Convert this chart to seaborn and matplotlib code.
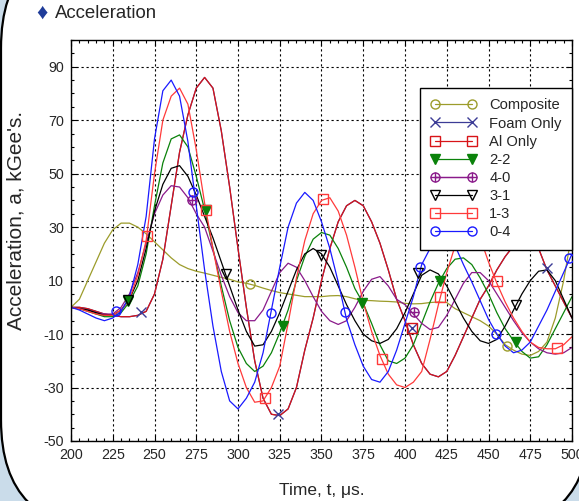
import matplotlib
matplotlib.use("Agg")
import matplotlib.pyplot as plt
import matplotlib.transforms as mtransforms
import pandas as pd
import seaborn as sns
from matplotlib.lines import Line2D
from matplotlib.legend_handler import HandlerTuple
from matplotlib.patches import FancyBboxPatch
from matplotlib.ticker import MultipleLocator

# time axis (microseconds), one reading every 5 us
times = list(range(200, 505, 5))

# readings of the curves off the picture (kGee's)
composite = [0, 3, 10, 17, 24, 29, 31.5, 31.5, 30, 27.5,
             24.5, 21.5, 18.5, 16, 14.5, 13.5, 12.8, 12, 11.2, 10.5,
             9.5, 9, 8.2, 7.2, 6.3, 5.5, 5, 4.5, 4, 4,
             4, 4.3, 4.4, 4, 3.2, 2.6, 2.5, 2.3, 2.2, 2,
             1.5, 1.3, 1.4, 1.8, 2, 1.8, -0.5, -2, -3.5, -5,
             -7, -10, -14, -16, -17.5, -18, -16.5, -13, -4, 10,
             28]
al_only = [0, 0, -0.5, -1.5, -2.5, -3, -3.5, -3.5, -3, -1.5,
           5, 18, 38, 58, 72, 82, 86, 82, 66, 45,
           22, 0, -20, -34, -40, -40.5, -38, -30, -16, -4,
           10, 22, 32, 38, 40, 38, 32, 24, 14, 3,
           -5, -14, -21, -25, -26, -24, -18, -11, -4, 3,
           8, 14, 19, 23, 26, 27, 22, 14, 8, 2,
           -4]
foam_only = al_only
s22 = [0, -0.5, -1.5, -2.5, -3.5, -3.5, -2, 2, 8, 20,
       38, 54, 63, 64.5, 60, 49, 36.5, 22, 8, -5,
       -15, -21, -24, -22, -17, -9.5, -1, 10, 19, 25.5,
       28, 27, 22, 15, 7, 1.5, -6, -14, -20, -21,
       -19, -14, -6, 2, 9, 14.5, 18, 18.5, 16, 11,
       5, -2, -8, -12.5, -16.5, -19, -18.5, -14, -8, -2,
       4]
s40 = [0, -0.5, -1, -2, -2.5, -2.5, 0, 5, 13, 24,
       35, 42, 45.5, 45, 41, 35, 30, 21, 12, 4,
       -2, -5, -5, -1, 6, 13, 16.5, 15, 10, 4,
       -1.5, -5, -6.4, -5, 0, 6, 10.5, 11.5, 8, 3,
       1, -2.5, -6, -8.3, -7.5, -3, 3, 9, 13, 13,
       10, 5, 0, -5, -9.5, -13, -15.5, -17, -17.5, -17,
       -15]
s31 = [0, -0.5, -1, -2, -3, -3, -1, 3, 10, 22,
       36, 46, 52, 53, 49, 42, 34, 26, 17, 8,
       -1, -9, -14.5, -14, -9, -2, 6, 14, 20, 22,
       20, 15, 8, 1, -5, -10, -12.5, -13.5, -12, -8,
       -2, 5, 12, 14, 12.5, 8, 2, -4, -9, -12.5,
       -13.5, -12, -7, -1, 5, 10, 13.5, 14, 10, 3,
       -4]
s13 = [0, -0.5, -1.5, -2.5, -3, -3, -1, 3, 12, 25,
       50, 70, 79, 82, 76, 59, 39, 22, 6, -9,
       -21, -30, -35.5, -35, -30, -22, -6, 11, 25, 35,
       40, 41, 36, 27, 15, 2, -9, -18, -25, -29,
       -30, -28, -24, -12, 1, 13, 23, 29, 30, 26,
       17, 9, 2, -4, -9, -13, -15, -15.5, -15.5, -14,
       -11]
s04 = [0, -1, -2.5, -4, -5, -4, -1.5, 4, 16, 34,
       63, 81, 85, 79, 62, 38, 14, -7, -24, -35,
       -38, -34, -28, -17, -1, 15, 30, 39, 43, 40,
       32, 22, 9.5, -4.5, -14, -22, -27, -28, -24, -16,
       -6, 4, 16, 22, 26, 27, 23, 16, 9.5, 2.5,
       -4.5, -10, -14.5, -17, -16, -13, -7, -1, 6, 13,
       20]

# marker positions
composite_mk_t = [307, 461]
composite_mk_a = [8.9, -14.5]
foam_mk_t = [242, 324, 404, 485]
foam_mk_a = [-1.8, -40, -7.7, 14.7]
al_mk_t = [404]
al_mk_a = [-7.7]
s22_mk_t = [234.3, 280.6, 327, 374.3, 421, 466.5]
s22_mk_a = [2.3, 36.5, -7, 1.5, 9.7, -13]
s40_mk_t = [272.3, 405.6]
s40_mk_a = [40, -1.8]
s31_mk_t = [234.3, 292.6, 350, 408, 466.5]
s31_mk_a = [2.9, 12.6, 19.7, 13, 0.7]
s13_mk_t = [245.5, 280.6, 316, 351, 386, 421, 455, 491]
s13_mk_a = [26.8, 36.5, -34, 40.5, -19.2, 3.9, 9.7, -15.3]
s04_mk_t = [227, 273, 319.6, 364, 409, 454.5, 498]
s04_mk_a = [-1.5, 43.3, -2.3, -1.7, 15, -10, 18.5]

series = [
    # name, values, colour, marker, filled, marker t, marker a
    ("Composite", composite, "#9c9c2b", "o", False, composite_mk_t, composite_mk_a),
    ("Foam Only", foam_only, "#3c3c96", "x", False, foam_mk_t, foam_mk_a),
    ("Al Only", al_only, "#d81418", "s", False, al_mk_t, al_mk_a),
    ("2-2", s22, "#0a820a", "v", True, s22_mk_t, s22_mk_a),
    ("4-0", s40, "#8a1a8a", "o+", False, s40_mk_t, s40_mk_a),
    ("3-1", s31, "#000000", "v", False, s31_mk_t, s31_mk_a),
    ("1-3", s13, "#ff3a3a", "s", False, s13_mk_t, s13_mk_a),
    ("0-4", s04, "#1a1aff", "o", False, s04_mk_t, s04_mk_a),
]

sns.set_style("ticks")
plt.rcParams['font.family'] = ['Liberation Sans', 'DejaVu Sans']
plt.rcParams['axes.unicode_minus'] = False

fig = plt.figure(figsize=(5.79, 5.01), dpi=100)
fig.patch.set_facecolor('#cadcea')

# rounded white panel behind everything (pixel units)
px = mtransforms.Affine2D().scale(1 / 579, 1 / 501) + fig.transFigure
panel = FancyBboxPatch((1, -29), 589, 592,
                       boxstyle="round,pad=0,rounding_size=110",
                       transform=px, facecolor='white', edgecolor='black',
                       lw=1.6, zorder=-5)
fig.add_artist(panel)

ax = fig.add_axes([71 / 579, 60 / 501, 501 / 579, 401 / 501])
ax.set_facecolor('white')

ms = 6.5
lw = 0.9
handles = []
for name, vals, col, mk, filled, mt, ma in series:
    df = pd.DataFrame({"t": times, "a": vals})
    sns.lineplot(data=df, x="t", y="a", color=col, lw=lw, ax=ax,
                 estimator=None, sort=False)
    if mk == "o+":
        ax.plot(mt, ma, ls='none', marker='o', ms=ms, mfc='none', mec=col, mew=1.0, zorder=4)
        ax.plot(mt, ma, ls='none', marker='+', ms=ms, mec=col, mew=1.0, zorder=4)
        h = (Line2D([], [], color=col, lw=lw, marker='o', ms=ms, mfc='none', mec=col),
             Line2D([], [], color=col, lw=lw, marker='+', ms=ms, mec=col))
    else:
        mfc = col if filled else 'none'
        ax.plot(mt, ma, ls='none', marker=mk, ms=ms, mfc=mfc, mec=col, mew=1.0, zorder=4)
        h = Line2D([], [], color=col, lw=lw, marker=mk, ms=ms, mfc=mfc, mec=col)
    handles.append(h)

ax.set_xlim(200, 500)
ax.set_ylim(-50, 100)
ax.xaxis.set_major_locator(MultipleLocator(25))
ax.xaxis.set_minor_locator(MultipleLocator(5))
ax.set_yticks([-50, -30, -10, 10, 30, 50, 70, 90])
ax.yaxis.set_minor_locator(MultipleLocator(5))
ax.tick_params(which='both', direction='in', top=True, right=True,
               labelsize=10.3, width=0.8, color='black')
ax.tick_params(which='major', length=4, pad=5)
ax.tick_params(which='minor', length=2)
ax.grid(True, which='major', color='black', lw=0.8, ls=(0, (2, 2.5)))
for sp in ax.spines.values():
    sp.set_color('black')
    sp.set_linewidth(1.0)

ax.set_xlabel('Time, t, \u03bcs.', fontsize=12.5)
ax.set_ylabel("Acceleration, a, kGee's.", fontsize=15)
ax.xaxis.set_label_coords(0.5, -0.105)
ax.yaxis.set_label_coords(-0.09, 0.551)

leg = ax.legend(handles, [s[0] for s in series], loc='upper right',
                bbox_to_anchor=(1.0, 0.88), borderaxespad=0, numpoints=2,
                handlelength=3.1, handletextpad=0.9, labelspacing=0.28,
                borderpad=0.7, fontsize=10.6, frameon=True, fancybox=False,
                handler_map={tuple: HandlerTuple(ndivide=1, pad=0)})
leg.get_frame().set_edgecolor('black')
leg.get_frame().set_linewidth(1.0)
leg.get_frame().set_alpha(1)

fig.text(42 / 579, 1 - 13 / 501, '\u2666', color='#1f3c99', fontsize=16,
         ha='center', va='center')
fig.text(55 / 579, 1 - 13 / 501, 'Acceleration', fontsize=13.4,
         ha='left', va='center')

fig.savefig("out.png", dpi=100, facecolor=fig.get_facecolor())
